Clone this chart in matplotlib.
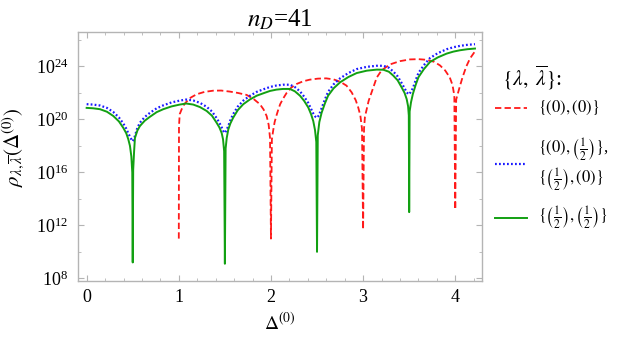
import matplotlib
matplotlib.use("Agg")
import matplotlib.pyplot as plt
import numpy as np
from matplotlib.lines import Line2D
from matplotlib.ticker import FixedLocator, LogFormatterMathtext

plt.rcParams['mathtext.fontset'] = 'stix'
plt.rcParams['font.family'] = ['Liberation Serif', 'DejaVu Serif']

# Datos: x = Delta^(0), y = log10(rho)
# {(0),(0)}  (rojo, empieza en x = 1)
x_rojo = [1.00, 1.002, 1.01, 1.03, 1.06, 1.085, 1.13, 1.194, 1.28, 1.374, 1.46, 1.555,
          1.64, 1.736, 1.81, 1.88, 1.92, 1.953, 1.975, 1.99, 2.00, 2.01, 2.025, 2.04,
          2.06, 2.08, 2.10, 2.13, 2.17, 2.22, 2.28, 2.35, 2.42, 2.51, 2.60, 2.68, 2.75,
          2.82, 2.876, 2.92, 2.947, 2.97, 2.988, 3.00, 3.01, 3.02, 3.04, 3.06, 3.09,
          3.12, 3.147, 3.20, 3.29, 3.40, 3.508, 3.60, 3.69, 3.77, 3.834, 3.89, 3.94,
          3.97, 3.99, 4.00, 4.01, 4.03, 4.05, 4.08, 4.12, 4.16, 4.21]
log_rojo = [11.0, 19.5, 20.4, 20.75, 21.15, 21.35, 21.65, 21.9, 22.08, 22.17, 22.18, 22.1,
            22.0, 21.85, 21.55, 21.15, 20.75, 20.26, 19.6, 18.6, 11.0, 18.5, 19.2, 19.8,
            20.3, 20.75, 21.15, 21.55, 22.0, 22.4, 22.68, 22.88, 23.0, 23.08, 23.1, 23.02, 22.85,
            22.55, 22.04, 21.45, 20.9, 20.3, 19.3, 11.7, 19.3, 20.2, 20.8, 21.4, 22.0,
            22.6, 23.15, 23.7, 24.15, 24.4, 24.53, 24.55, 24.5, 24.35, 24.08, 23.7, 23.18,
            22.6, 21.8, 13.2, 21.5, 22.0, 22.5, 23.2, 24.0, 24.6, 25.1]

# {(0),(1/2)}, {(1/2),(0)}  (azul)
x_azul = [0.00, 0.07, 0.145, 0.22, 0.289, 0.35, 0.397, 0.43, 0.452, 0.47, 0.485, 0.50,
          0.515, 0.53, 0.55, 0.578, 0.63, 0.687, 0.76, 0.831, 0.92, 1.01, 1.08, 1.157,
          1.23, 1.302, 1.36, 1.41, 1.44, 1.465, 1.485, 1.50, 1.515, 1.537, 1.56, 1.59,
          1.64, 1.70, 1.77, 1.845, 1.92, 1.99, 2.06, 2.13, 2.206, 2.26, 2.315, 2.36,
          2.405, 2.435, 2.459, 2.48, 2.50, 2.52, 2.55, 2.585, 2.62, 2.68, 2.75, 2.84,
          2.93, 3.04, 3.147, 3.22, 3.28, 3.327, 3.375, 3.418, 3.45, 3.473, 3.49, 3.50,
          3.515, 3.54, 3.57, 3.60, 3.66, 3.725, 3.81, 3.907, 3.98, 4.05, 4.13, 4.214]
log_azul = [21.15, 21.12, 21.05, 20.87, 20.56, 20.15, 19.7, 19.3, 18.95, 18.7, 18.5, 18.35,
            18.55, 18.9, 19.35, 19.75, 20.18, 20.5, 20.84, 21.06, 21.28, 21.42, 21.5, 21.43,
            21.25, 20.95, 20.6, 20.1, 19.75, 19.4, 19.1, 18.98, 19.15, 19.5, 19.95, 20.4,
            20.97, 21.42, 21.78, 22.08, 22.28, 22.45, 22.56, 22.62, 22.62, 22.44, 22.12, 21.72,
            21.24, 20.8, 20.45, 20.22, 20.13, 20.3, 20.85, 21.5, 22.08, 22.65, 23.1, 23.5,
            23.8, 23.97, 24.05, 24.05, 23.9, 23.62, 23.25, 22.75, 22.35, 22.05, 21.92, 21.9,
            22.05, 22.35, 22.95, 23.5, 24.1, 24.63, 25.0, 25.3, 25.45, 25.55, 25.63, 25.68]

# {(1/2),(1/2)}  (verde)
x_verde = [0.00, 0.07, 0.145, 0.22, 0.289, 0.35, 0.397, 0.43, 0.452, 0.47, 0.485, 0.495,
           0.50, 0.505, 0.515, 0.524, 0.55, 0.578, 0.63, 0.687, 0.76, 0.831, 0.92, 1.01,
           1.08, 1.157, 1.23, 1.302, 1.36, 1.41, 1.44, 1.465, 1.48, 1.492, 1.50, 1.508,
           1.52, 1.537, 1.56, 1.59, 1.64, 1.70, 1.77, 1.845, 1.92, 1.99, 2.06, 2.13,
           2.206, 2.26, 2.315, 2.36, 2.405, 2.435, 2.459, 2.478, 2.492, 2.50, 2.508, 2.525,
           2.55, 2.585, 2.62, 2.68, 2.75, 2.84, 2.93, 3.04, 3.147, 3.22, 3.28, 3.327,
           3.375, 3.418, 3.45, 3.473, 3.488, 3.496, 3.50, 3.505, 3.52, 3.54, 3.57, 3.60,
           3.66, 3.725, 3.81, 3.907, 3.98, 4.05, 4.13, 4.214]
log_verde = [20.87, 20.84, 20.77, 20.58, 20.26, 19.85, 19.37, 18.95, 18.5, 18.0, 17.2, 16.0,
             9.2, 16.2, 17.6, 18.6, 19.15, 19.5, 19.9, 20.2, 20.55, 20.77, 20.98, 21.12,
             21.2, 21.12, 20.93, 20.64, 20.28, 19.75, 19.4, 18.98, 18.5, 17.6, 9.1, 17.8,
             18.6, 19.24, 19.7, 20.13, 20.7, 21.15, 21.5, 21.79, 21.98, 22.15, 22.25, 22.3,
             22.3, 22.12, 21.79, 21.4, 20.9, 20.4, 19.88, 19.2, 18.3, 10.0, 18.8, 19.8,
             20.51, 21.2, 21.79, 22.35, 22.8, 23.2, 23.5, 23.68, 23.76, 23.75, 23.6, 23.31,
             22.95, 22.42, 22.0, 21.53, 21.0, 20.3, 13.0, 20.6, 21.3, 21.92, 22.6, 23.18,
             23.8, 24.33, 24.68, 24.97, 25.12, 25.22, 25.3, 25.35]

etiquetas = [r'$\{(0),(0)\}$',
             r'$\{(0),\left(\frac{1}{2}\right)\}$,',
             r'$\{\left(\frac{1}{2}\right),(0)\}$',
             r'$\{\left(\frac{1}{2}\right),\left(\frac{1}{2}\right)\}$']

rojo = '#ff1a1a'
azul = '#1a1aff'
verde = '#12a012'
gris = '#b4b4b4'

fig = plt.figure(figsize=(6.18, 3.43), dpi=100)
ax = fig.add_axes([0.1262, 0.1808, 0.6537, 0.7259])

ax.plot(x_rojo, np.power(10.0, log_rojo), color=rojo, lw=1.3, linestyle=(0, (3.5, 1.8)))
ax.plot(x_azul, np.power(10.0, log_azul), color=azul, lw=1.6, linestyle=(0, (0.8, 1.0)))
ax.plot(x_verde, np.power(10.0, log_verde), color=verde, lw=1.4)

ax.set_yscale('log')
ax.set_xlim(-0.094, 4.29)
ax.set_ylim(10**7.8, 10**26.6)

ax.xaxis.set_major_locator(FixedLocator([0, 1, 2, 3, 4]))
ax.xaxis.set_minor_locator(FixedLocator(np.arange(0, 4.3, 0.2)))
ax.yaxis.set_major_locator(FixedLocator(10.0 ** np.arange(8, 27, 4)))
ax.yaxis.set_minor_locator(FixedLocator(10.0 ** np.arange(10, 27, 4)))
ax.yaxis.set_major_formatter(LogFormatterMathtext())
ax.yaxis.set_minor_formatter(plt.NullFormatter())

ax.tick_params(which='both', direction='in', top=True, right=True, color=gris,
               labelsize=13)
ax.tick_params(which='major', length=4, width=0.8)
ax.tick_params(which='minor', length=2, width=0.6)
ax.tick_params(axis='x', pad=6)
ax.tick_params(axis='y', pad=7)
for lado in ax.spines.values():
    lado.set_color(gris)
    lado.set_linewidth(1.0)

ax.set_title(r'$n_D$=41', fontsize=18, pad=4)
ax.set_xlabel(r'$\Delta^{(0)}$', fontsize=14, labelpad=4)
ax.set_ylabel(r'$\rho_{\lambda,\overline{\lambda}}(\Delta^{(0)})$', fontsize=15)
ax.yaxis.label.set_va('center')
ax.yaxis.set_label_coords(-0.16, 0.538)

# Leyenda hecha a mano
W, H = 618.0, 343.0
fig.text(502 / W, 1 - 78 / H, r'$\{\lambda,\ \overline{\lambda}\}$:', fontsize=15.5,
         va='center', ha='left')
for y, c, ls, lw in [(108, rojo, (0, (3.5, 1.8)), 1.3),
                     (164, azul, (0, (0.8, 1.0)), 1.6),
                     (218, verde, '-', 1.4)]:
    fig.add_artist(Line2D([495 / W, 527 / W], [1 - y / H, 1 - y / H], color=c, lw=lw,
                          linestyle=ls, transform=fig.transFigure))
for y, txt in zip([108, 150, 180, 218], etiquetas):
    fig.text(538 / W, 1 - y / H, txt, fontsize=12, va='center', ha='left')

plt.savefig('out.png', dpi=100)
